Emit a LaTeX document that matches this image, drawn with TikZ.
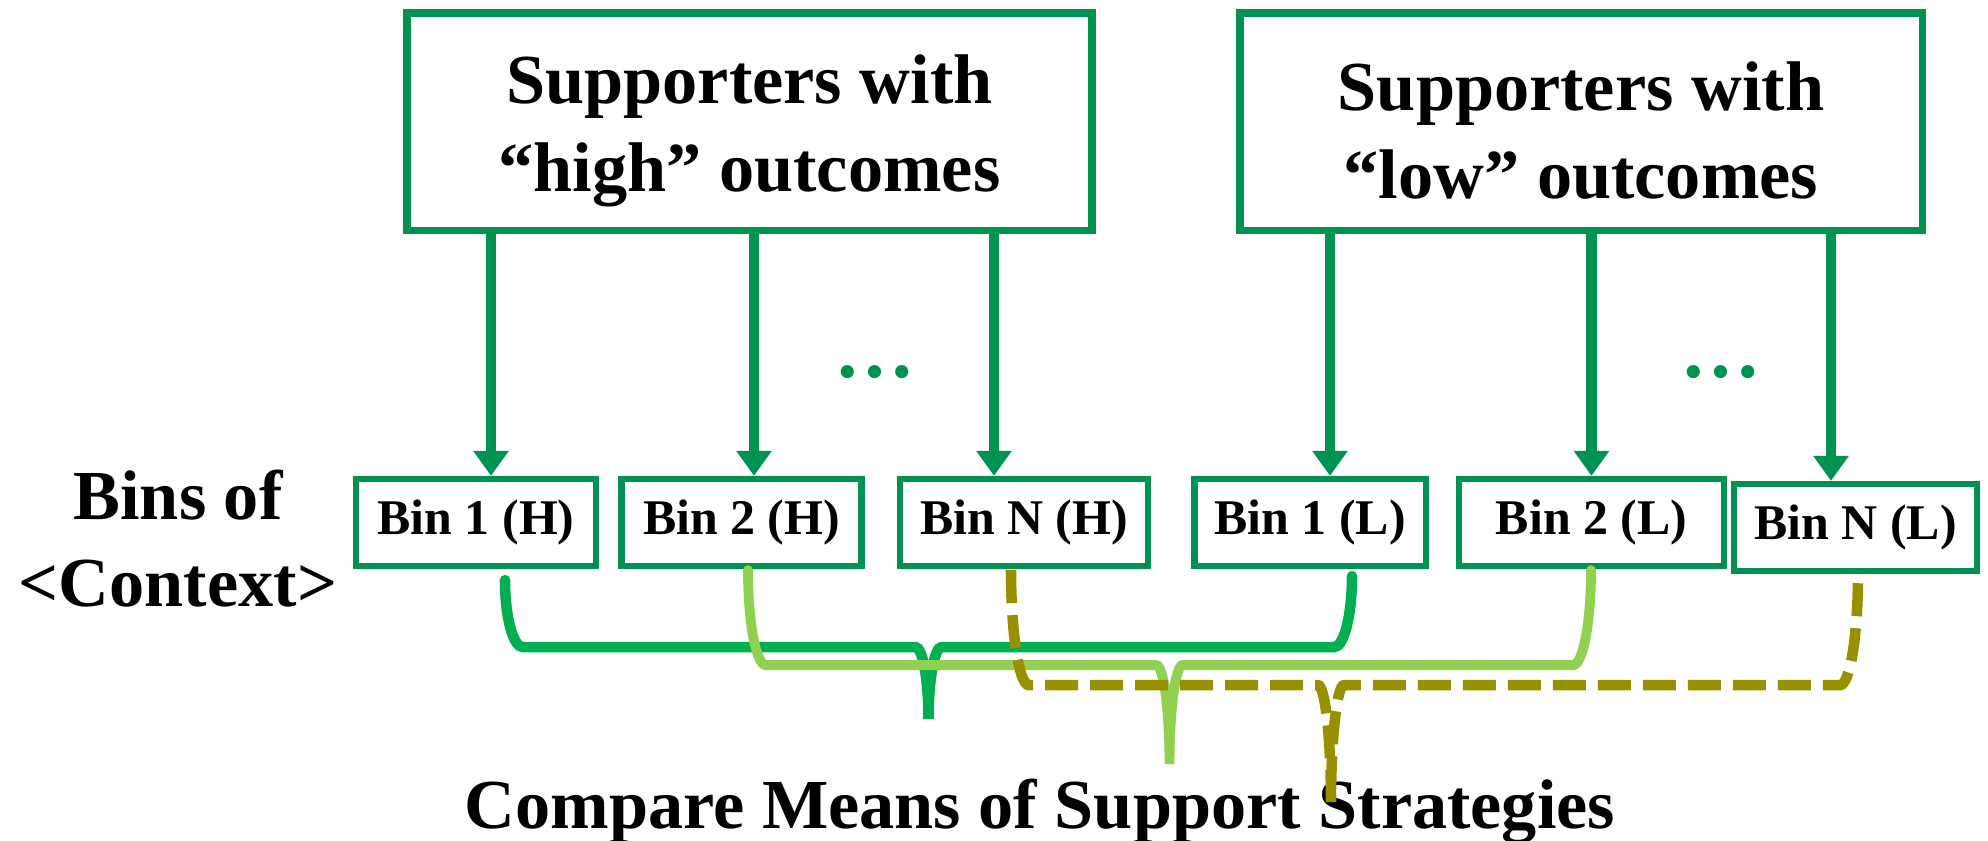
\documentclass[tikz,border=0pt]{standalone}
\usepackage{fontspec}
\setmainfont{Liberation Serif}
\usetikzlibrary{arrows.meta}

\definecolor{boxgreen}{RGB}{0,146,80}
\definecolor{bracegreen}{RGB}{0,176,80}
\definecolor{palegreen}{RGB}{146,208,80}
\definecolor{olivebrown}{RGB}{151,145,0}

\tikzset{
  group/.style={draw=boxgreen,line width=2pt,minimum height=2.175cm,align=center},
  bin/.style={draw=boxgreen,line width=1.8pt,minimum width=2.4cm,minimum height=0.87cm,
    inner xsep=0.2cm,font=\bfseries\fontsize{14.2}{17}\selectfont},
  feed/.style={boxgreen,line width=2.9pt,-{Triangle[width=0.34cm,length=0.25cm]}},
  firstpair/.style={bracegreen,line width=3pt,line cap=round},
  secondpair/.style={palegreen,line width=2.8pt,line cap=round},
  lastpair/.style={olivebrown,line width=3pt,dash pattern=on 0.33cm off 0.12cm}
}

\begin{document}
\begin{tikzpicture}[x=1cm,y=-1cm,font=\bfseries\fontsize{20}{25}\selectfont]
  \useasboundingbox (0,0) rectangle (19.88,8.41);

  % the two groups of supporters
  \node[group,minimum width=6.85cm] (hi) at (7.495,1.2175)
    {\rule{0pt}{0.95em}Supporters with\\``high'' outcomes};
  \node[group,minimum width=6.82cm] (lo) at (15.81,1.2175)
    {\rule{0pt}{0.95em}Supporters with\\``low'' outcomes};

  % bins
  \node[bin] (b1h) at (4.76,5.225) {Bin 1 (H)};
  \node[bin] (b2h) at (7.415,5.225) {Bin 2 (H)};
  \node[bin] (bnh) at (10.24,5.225) {Bin N (H)};
  \node[bin,minimum width=2.27cm] (b1l) at (13.10,5.225) {Bin 1 (L)};
  \node[bin,minimum width=2.65cm] (b2l) at (15.915,5.225) {Bin 2 (L)};
  \node[bin] (bnl) at (18.555,5.275) {Bin N (L)};

  \node[boxgreen,font=\bfseries\fontsize{23}{25}\selectfont] (dotsh) at (8.75,3.72) {…};
  \node[boxgreen,font=\bfseries\fontsize{23}{25}\selectfont] (dotsl) at (17.21,3.72) {…};

  \node[anchor=base,align=center] (ctx) at (1.78,6.07) {Bins of\\<Context>};
  \node[anchor=base] (cmp) at (10.40,8.29) {Compare Means of Support Strategies};

  % arrows into the bins
  \foreach \b/\g/\dx in {b1h/hi/0.15,b2h/hi/0.125,bnh/hi/-0.3,b1l/lo/0.2,b2l/lo/0,bnl/lo/-0.245}
    \draw[feed] ([xshift=\dx cm]\b.north |- \g.south) -- ([xshift=\dx cm]\b.north);

  % braces pairing the bins
  \draw[firstpair] ([xshift=0.29cm,yshift=-0.11cm]b1h.south)
    .. controls +(0,0.37) and +(-0.10,0) .. ++(0.18,0.67) -- ++(3.925,0)
    .. controls +(0.07,0) and +(0,-0.40) .. ++(0.13,0.72)
    .. controls +(0,-0.40) and +(-0.07,0) .. ++(0.13,-0.72) -- ++(3.925,0)
    .. controls +(0.10,0) and +(0,0.39) .. ++(0.18,-0.71);
  \draw[secondpair] ([xshift=0.065cm,yshift=-0.01cm]b2h.south)
    .. controls +(0,0.52) and +(-0.10,0) .. ++(0.18,0.95) -- ++(3.905,0)
    .. controls +(0.07,0) and +(0,-0.54) .. ++(0.13,0.99)
    .. controls +(0,-0.54) and +(-0.07,0) .. ++(0.13,-0.99) -- ++(3.905,0)
    .. controls +(0.10,0) and +(0,0.52) .. ++(0.18,-0.95);
  \draw[lastpair] ([xshift=-0.13cm,yshift=-0.01cm]bnh.south)
    .. controls +(0,0.63) and +(-0.10,0) .. ++(0.18,1.15) -- ++(2.89,0)
    .. controls +(0.07,0) and +(0,-0.64) .. ++(0.13,1.17)
    .. controls +(0,-0.64) and +(-0.07,0) .. ++(0.13,-1.17) -- ++(4.96,0)
    .. controls +(0.10,0) and +(0,0.61) .. ++(0.18,-1.11);
\end{tikzpicture}
\end{document}
